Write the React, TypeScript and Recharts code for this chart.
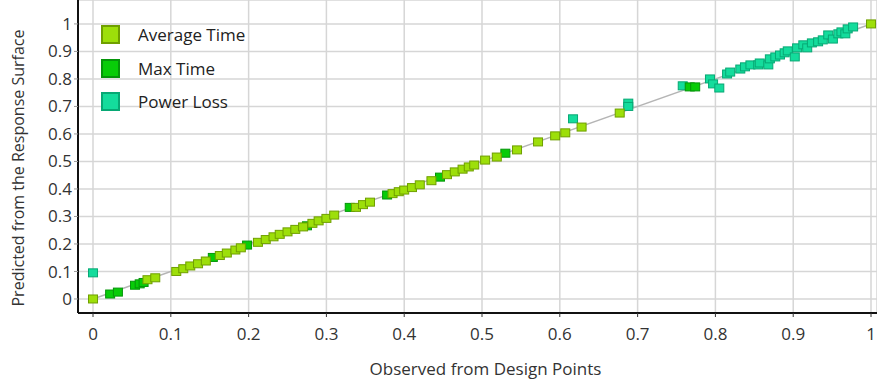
import React from 'react';
import { ScatterChart, Scatter, XAxis, YAxis, CartesianGrid } from 'recharts';

type Pt = { x: number; y: number };

const ticks = [0, 0.1, 0.2, 0.3, 0.4, 0.5, 0.6, 0.7, 0.8, 0.9, 1];

const diagonal: Pt[] = [
  { x: 0, y: 0 },
  { x: 1, y: 1 },
];

const averageTime: Pt[] = [
  { x: 0, y: 0 }, { x: 0.07, y: 0.07 }, { x: 0.08, y: 0.077 },
  { x: 0.107, y: 0.1 }, { x: 0.116, y: 0.11 }, { x: 0.125, y: 0.12 },
  { x: 0.135, y: 0.128 }, { x: 0.145, y: 0.138 }, { x: 0.163, y: 0.158 },
  { x: 0.172, y: 0.167 }, { x: 0.183, y: 0.178 }, { x: 0.19, y: 0.186 },
  { x: 0.212, y: 0.206 }, { x: 0.222, y: 0.216 }, { x: 0.232, y: 0.226 },
  { x: 0.24, y: 0.235 }, { x: 0.25, y: 0.244 }, { x: 0.26, y: 0.253 },
  { x: 0.27, y: 0.262 }, { x: 0.282, y: 0.275 }, { x: 0.29, y: 0.284 },
  { x: 0.3, y: 0.293 }, { x: 0.31, y: 0.305 }, { x: 0.338, y: 0.333 },
  { x: 0.347, y: 0.343 }, { x: 0.356, y: 0.352 }, { x: 0.385, y: 0.383 },
  { x: 0.393, y: 0.39 }, { x: 0.4, y: 0.396 }, { x: 0.41, y: 0.405 },
  { x: 0.42, y: 0.415 }, { x: 0.435, y: 0.43 }, { x: 0.455, y: 0.452 },
  { x: 0.465, y: 0.462 }, { x: 0.475, y: 0.472 }, { x: 0.483, y: 0.48 },
  { x: 0.49, y: 0.487 }, { x: 0.504, y: 0.505 }, { x: 0.519, y: 0.516 },
  { x: 0.545, y: 0.542 }, { x: 0.572, y: 0.571 }, { x: 0.594, y: 0.593 },
  { x: 0.607, y: 0.604 }, { x: 0.628, y: 0.625 }, { x: 0.677, y: 0.676 },
  { x: 1, y: 1 },
];

const maxTime: Pt[] = [
  { x: 0.022, y: 0.018 }, { x: 0.032, y: 0.025 }, { x: 0.054, y: 0.05 },
  { x: 0.06, y: 0.055 }, { x: 0.065, y: 0.06 }, { x: 0.154, y: 0.151 },
  { x: 0.198, y: 0.196 }, { x: 0.275, y: 0.266 }, { x: 0.33, y: 0.333 },
  { x: 0.378, y: 0.378 }, { x: 0.446, y: 0.443 }, { x: 0.53, y: 0.53 },
  { x: 0.767, y: 0.771 }, { x: 0.774, y: 0.771 },
];

const powerLoss: Pt[] = [
  { x: 0, y: 0.095 }, { x: 0.617, y: 0.655 }, { x: 0.688, y: 0.712 },
  { x: 0.688, y: 0.7 }, { x: 0.758, y: 0.775 }, { x: 0.793, y: 0.8 },
  { x: 0.797, y: 0.782 }, { x: 0.805, y: 0.767 }, { x: 0.815, y: 0.818 },
  { x: 0.819, y: 0.825 }, { x: 0.832, y: 0.836 }, { x: 0.838, y: 0.844 },
  { x: 0.845, y: 0.851 }, { x: 0.855, y: 0.851 }, { x: 0.857, y: 0.858 },
  { x: 0.868, y: 0.851 }, { x: 0.87, y: 0.873 }, { x: 0.877, y: 0.88 },
  { x: 0.883, y: 0.887 }, { x: 0.889, y: 0.895 }, { x: 0.893, y: 0.902 },
  { x: 0.902, y: 0.88 }, { x: 0.905, y: 0.913 }, { x: 0.913, y: 0.924 },
  { x: 0.918, y: 0.913 }, { x: 0.924, y: 0.931 }, { x: 0.932, y: 0.935 },
  { x: 0.938, y: 0.942 }, { x: 0.945, y: 0.96 }, { x: 0.951, y: 0.945 },
  { x: 0.958, y: 0.964 }, { x: 0.962, y: 0.971 }, { x: 0.967, y: 0.964 },
  { x: 0.97, y: 0.982 }, { x: 0.977, y: 0.989 },
];

const series = [
  { name: 'Average Time', fill: '#9ddf0a', stroke: '#6f9f00' },
  { name: 'Max Time', fill: '#08cc08', stroke: '#05950a' },
  { name: 'Power Loss', fill: '#14dc9c', stroke: '#07a874' },
];

const FONT = '"Open Sans", sans-serif';

const square = (fill: string, stroke: string) => (props: any) => {
  const { cx, cy } = props;
  if (cx == null || cy == null) return <g />;
  return <rect x={cx - 4.5} y={cy - 4} width={9} height={8} fill={fill} stroke={stroke} strokeWidth={1} />;
};

const noShape = () => <g />;

// legend drawn as an overlay so it doesn't eat plot space
const LegendBox = () => (
  <div style={{ position: 'absolute', left: 101, top: 18, fontFamily: FONT, fontSize: 17, color: '#222' }}>
    {series.map((s) => (
      <div key={s.name} style={{ display: 'flex', alignItems: 'center', height: 33.5 }}>
        <span
          style={{
            display: 'inline-block',
            width: 15,
            height: 15,
            background: s.fill,
            border: `2px solid ${s.stroke}`,
            marginRight: 18,
          }}
        />
        <span>{s.name}</span>
      </div>
    ))}
  </div>
);

export default function App() {
  return (
    <div style={{ position: 'absolute', left: 0, top: 0, width: 877, height: 379, background: '#fff' }}>
      <ScatterChart width={877} height={379} margin={{ top: 0, right: 0, bottom: 0, left: 0 }}>
        <CartesianGrid stroke="#d6d6d6" strokeWidth={1.5} />
        <XAxis
          type="number"
          dataKey="x"
          domain={[-0.0193, 1.0077]}
          ticks={ticks}
          allowDataOverflow
          height={66}
          tickSize={4}
          tickMargin={11}
          axisLine={{ stroke: '#111', strokeWidth: 2 }}
          tickLine={{ stroke: '#333' }}
          tick={{ fill: '#333', fontSize: 17, fontFamily: FONT }}
          label={{ value: 'Observed from Design Points', position: 'insideBottom', offset: 4, dx: 8, fill: '#333', fontSize: 17, fontFamily: FONT }}
        />
        <YAxis
          type="number"
          dataKey="y"
          domain={[-0.051, 1.087]}
          ticks={ticks}
          allowDataOverflow
          width={78}
          tickSize={4}
          tickMargin={2}
          axisLine={{ stroke: '#111', strokeWidth: 2 }}
          tickLine={{ stroke: '#999' }}
          tick={{ fill: '#333', fontSize: 17, fontFamily: FONT }}
          label={{ value: 'Predicted from the Response Surface', angle: -90, position: 'insideLeft', offset: 18, dy: 150, fill: '#333', fontSize: 16, fontFamily: FONT }}
        />
        <Scatter data={diagonal} line={{ stroke: '#b5b5b5', strokeWidth: 1.5 }} shape={noShape} legendType="none" isAnimationActive={false} />
        <Scatter name="Power Loss" data={powerLoss} shape={square(series[2].fill, series[2].stroke)} isAnimationActive={false} />
        <Scatter name="Max Time" data={maxTime} shape={square(series[1].fill, series[1].stroke)} isAnimationActive={false} />
        <Scatter name="Average Time" data={averageTime} shape={square(series[0].fill, series[0].stroke)} isAnimationActive={false} />
      </ScatterChart>
      <LegendBox />
    </div>
  );
}
